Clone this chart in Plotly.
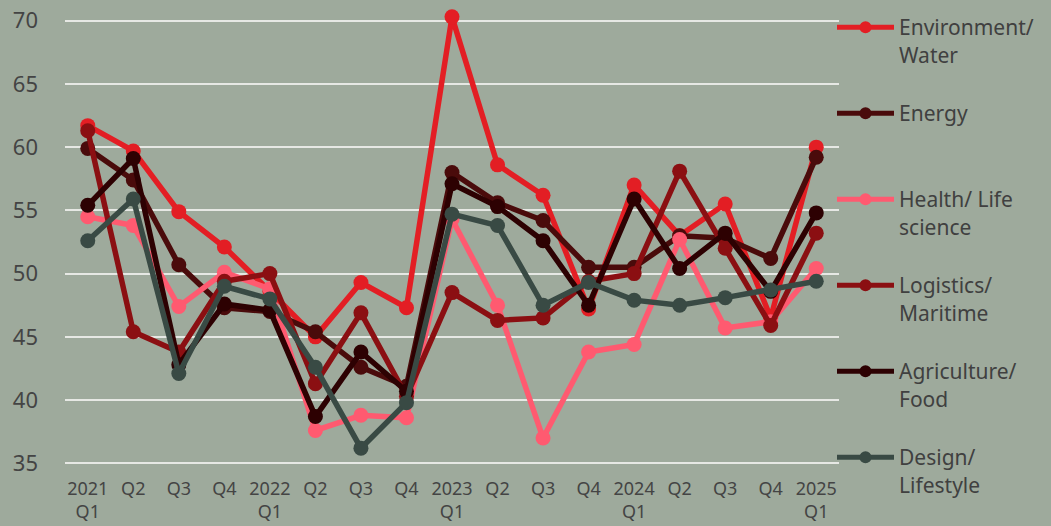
import plotly.graph_objects as go

quarters = ["2021 Q1", "2021 Q2", "2021 Q3", "2021 Q4",
            "2022 Q1", "2022 Q2", "2022 Q3", "2022 Q4",
            "2023 Q1", "2023 Q2", "2023 Q3", "2023 Q4",
            "2024 Q1", "2024 Q2", "2024 Q3", "2024 Q4",
            "2025 Q1"]
tick_labels = ["2021<br>Q1", "Q2", "Q3", "Q4",
               "2022<br>Q1", "Q2", "Q3", "Q4",
               "2023<br>Q1", "Q2", "Q3", "Q4",
               "2024<br>Q1", "Q2", "Q3", "Q4",
               "2025<br>Q1"]

environment = [61.7, 59.7, 54.9, 52.1, 48.6, 45.0, 49.3, 47.3, 70.3, 58.6, 56.2, 47.2, 57.0, 53.0, 55.5, 46.5, 60.0]
energy = [59.9, 57.4, 50.7, 47.3, 47.0, 45.4, 42.6, 41.1, 58.0, 55.6, 54.2, 50.5, 50.5, 53.0, 52.8, 51.2, 59.2]
health = [54.5, 53.8, 47.4, 50.1, 48.8, 37.6, 38.8, 38.6, 54.3, 47.5, 37.0, 43.8, 44.4, 52.7, 45.7, 46.2, 50.4]
logistics = [61.3, 45.4, 43.8, 49.4, 50.0, 41.3, 46.9, 40.3, 48.5, 46.3, 46.5, 49.4, 50.0, 58.1, 52.0, 45.9, 53.2]
agriculture = [55.4, 59.1, 42.8, 47.6, 47.1, 38.7, 43.8, 40.7, 57.1, 55.3, 52.6, 47.5, 55.9, 50.4, 53.2, 48.6, 54.8]
design = [52.6, 55.9, 42.1, 49.0, 48.0, 42.6, 36.2, 39.8, 54.7, 53.8, 47.5, 49.3, 47.9, 47.5, 48.1, 48.7, 49.4]

series = [
    ("Environment/<br>Water", environment, "#e31e24"),
    ("Energy", energy, "#4a0b0b"),
    ("Health/ Life<br>science", health, "#ff5a70"),
    ("Logistics/<br>Maritime", logistics, "#8b0f12"),
    ("Agriculture/<br>Food", agriculture, "#2d0102"),
    ("Design/<br>Lifestyle", design, "#394a44"),
]

W, H = 1051, 526
legend_ids = ["legend", "legend2", "legend3", "legend4", "legend5", "legend6"]
# pixel tops of each legend box
legend_tops = [7, 93, 179, 265, 351, 437]

fig = go.Figure()
for i, (name, vals, col) in enumerate(series):
    fig.add_trace(go.Scatter(
        x=quarters, y=vals, name=name, mode="lines+markers",
        line=dict(color=col, width=5.5),
        marker=dict(color=col, size=15),
        legend=legend_ids[i],
    ))

layout_legends = {}
for i, lid in enumerate(legend_ids):
    layout_legends[lid] = dict(
        xref="container", yref="container",
        x=832 / W, xanchor="left",
        y=1 - legend_tops[i] / H, yanchor="top",
        font=dict(size=21, color="#404040"),
        valign="top", itemwidth=57, itemsizing="constant",
        bgcolor="rgba(0,0,0,0)",
    )

fig.update_layout(
    width=W, height=H,
    paper_bgcolor="#9eaa9c", plot_bgcolor="#9eaa9c",
    margin=dict(l=65, r=212, t=8, b=50, autoexpand=False),
    font=dict(family="Noto Sans, Open Sans, sans-serif", color="#444444"),
    showlegend=True,
    xaxis=dict(
        type="category", tickvals=quarters, ticktext=tick_labels,
        range=[-0.5, len(quarters) - 0.5],
        showgrid=False, showline=False, zeroline=False,
        tickfont=dict(size=18, color="#444444"),
        ticks="", automargin=False,
    ),
    yaxis=dict(
        range=[34, 71], tickvals=[35, 40, 45, 50, 55, 60, 65, 70],
        showgrid=True, gridcolor="#e6e8e4", gridwidth=2,
        zeroline=False, showline=False,
        tickfont=dict(size=22, color="#444444"),
        ticklabelstandoff=26, automargin=False,
    ),
    **layout_legends,
)

fig.write_html("out.html", config={"displayModeBar": False},
               post_script="document.body.style.margin='0';")
